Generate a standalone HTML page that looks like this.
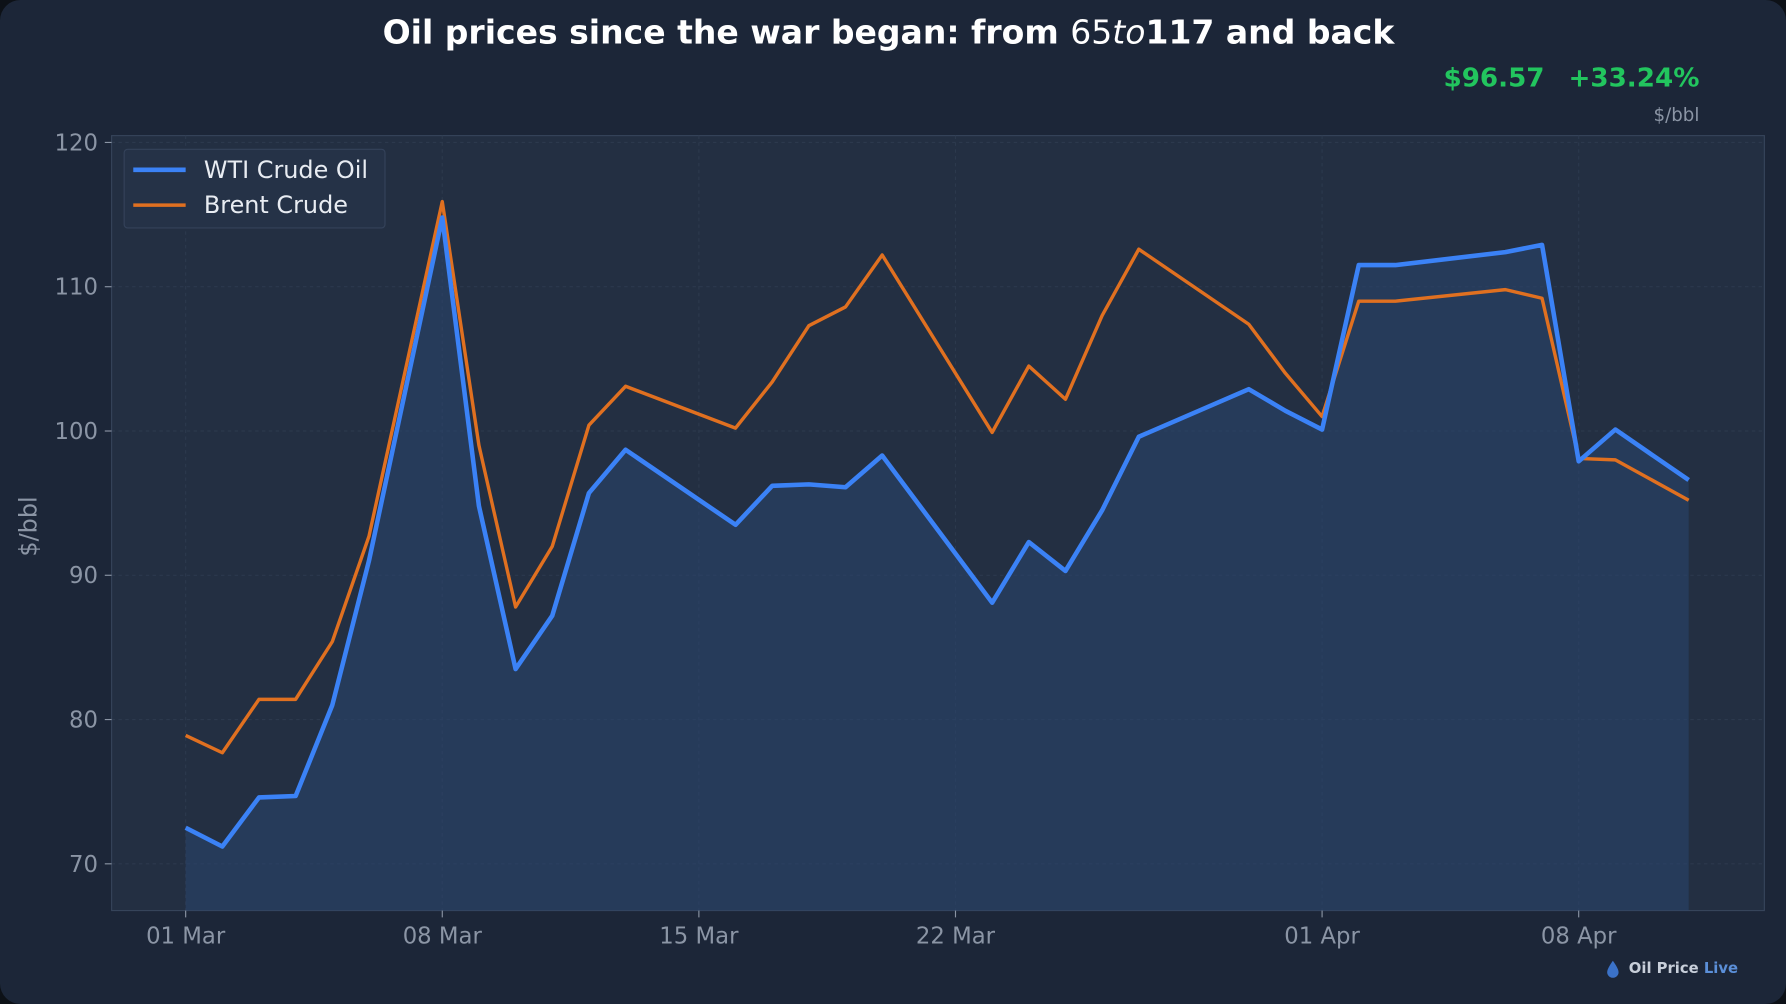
<!DOCTYPE html>
<html><head><meta charset="utf-8"><style>
html,body{margin:0;padding:0;background:#0d1117;width:1786px;height:1004px;overflow:hidden}
svg{display:block}
text{font-family:"DejaVu Sans","Liberation Sans",sans-serif}
</style></head><body>
<svg id="chart" width="1786" height="1004" viewBox="0 0 1568 881" preserveAspectRatio="none">
<rect x="0" y="0" width="1568" height="881" rx="18" fill="#1c2638"/>
<rect x="98" y="119" width="1451" height="680" fill="#232f42" stroke="#36445a" stroke-width="1"/>
<g id="grid"></g>
<g id="marks"></g>
<g id="axes"></g>
<text x="780" y="38" text-anchor="middle" font-size="29" font-weight="bold" fill="#ffffff">Oil prices since the war began: from <tspan font-weight="normal">65</tspan><tspan font-weight="normal" font-style="italic">to</tspan>117 and back</text>
<text x="1356" y="76" text-anchor="end" font-size="23" font-weight="bold" fill="#22c55e">$96.57</text>
<text x="1492" y="76" text-anchor="end" font-size="23" font-weight="bold" fill="#22c55e">+33.24%</text>
<text x="1492" y="106" text-anchor="end" font-size="16" fill="#8b95a5">$/bbl</text>
<text transform="translate(32,462) rotate(-90)" text-anchor="middle" font-size="21" fill="#8b95a5">$/bbl</text>
<g>
<rect x="109" y="131" width="229" height="69" rx="3" fill="#253247" stroke="#34425a"/>
<line x1="117" y1="149" x2="163" y2="149" stroke="#3b82f6" stroke-width="4"/>
<text x="179" y="156" font-size="21" fill="#e8ecf2">WTI Crude Oil</text>
<line x1="117" y1="180" x2="163" y2="180" stroke="#e07020" stroke-width="3"/>
<text x="179" y="187" font-size="21" fill="#e8ecf2">Brent Crude</text>
</g>
<g>
<path d="M1416 843 q-5 7 -5 10 a5 5 0 0 0 10 0 q0 -3 -5 -10z" fill="#3b72c8"/>
<text x="1430" y="854" font-size="13" font-weight="bold" fill="#c8cfda">Oil Price <tspan fill="#5b8fd8">Live</tspan></text>
</g>
</svg>
<script>
const days = [0,1,2,3,4,5,7,8,9,10,11,12,15,16,17,18,19,22,23,24,25,26,29,30,31,32,33,36,37,38,39,41];
const wti = [72.5,71.2,74.6,74.7,81.0,91.0,114.8,94.8,83.5,87.2,95.7,98.7,93.5,96.2,96.3,96.1,98.3,88.1,92.3,90.3,94.5,99.6,102.9,101.4,100.1,111.5,111.5,112.4,112.9,97.9,100.1,96.6];
const brent = [78.9,77.7,81.4,81.4,85.4,92.7,115.9,99.0,87.8,92.0,100.4,103.1,100.2,103.4,107.3,108.6,112.2,99.9,104.5,102.2,108.0,112.6,107.4,104.0,101.0,109.0,109.0,109.8,109.2,98.1,98.0,95.2];
const yTicks = [70,80,90,100,110,120];
const xTickDays = [0,7,14,21,31,38];
const xTickLabels = ["01 Mar","08 Mar","15 Mar","22 Mar","01 Apr","08 Apr"];

const NS="http://www.w3.org/2000/svg";
const xs = d => 163 + d*(1386-163)/38;
const ys = v => 758 - (v-70)*(758-125)/50;
function mk(tag, attrs, parent){const e=document.createElementNS(NS,tag);for(const k in attrs)e.setAttribute(k,attrs[k]);parent.appendChild(e);return e;}
const grid=document.getElementById('grid'), marks=document.getElementById('marks'), axes=document.getElementById('axes');

yTicks.forEach((t,i)=>{
  const y=ys(t);
  const g=mk('line',{x1:98,x2:1549,y1:y,y2:y,stroke:'#2c394d','stroke-width':1,'stroke-dasharray':'3,3'},grid);
  
  
  const tk=mk('line',{x1:92,x2:98,y1:y,y2:y,stroke:'#8b95a5'},axes);
  
  
  const tx=mk('text',{x:86,y:y+7,'text-anchor':'end','font-size':20,fill:'#8b95a5'},axes);
  tx.textContent=t;
  
  
});
xTickDays.forEach((d,i)=>{
  const x=xs(d);
  const g=mk('line',{x1:x,x2:x,y1:119,y2:799,stroke:'#2c394d','stroke-width':1,'stroke-dasharray':'3,3'},grid);
  
  
  const tk=mk('line',{x1:x,x2:x,y1:799,y2:805,stroke:'#8b95a5'},axes);
  
  
  const tx=mk('text',{x:x,y:828,'text-anchor':'middle','font-size':20,fill:'#8b95a5'},axes);
  tx.textContent=xTickLabels[i];
  
  
});

const wtiPts=days.map((d,i)=>xs(d)+','+ys(wti[i])).join(' ');
const brentPts=days.map((d,i)=>xs(d)+','+ys(brent[i])).join(' ');
const area=mk('polygon',{points:xs(days[0])+',799 '+wtiPts+' '+xs(days[days.length-1])+',799',fill:'#2a4570','fill-opacity':'0.55'},marks);


const bl=mk('polyline',{points:brentPts,fill:'none',stroke:'#e07020','stroke-width':3,'stroke-linejoin':'round'},marks);


const wl=mk('polyline',{points:wtiPts,fill:'none',stroke:'#3b82f6','stroke-width':4,'stroke-linejoin':'round'},marks);


</script>
</body></html>
